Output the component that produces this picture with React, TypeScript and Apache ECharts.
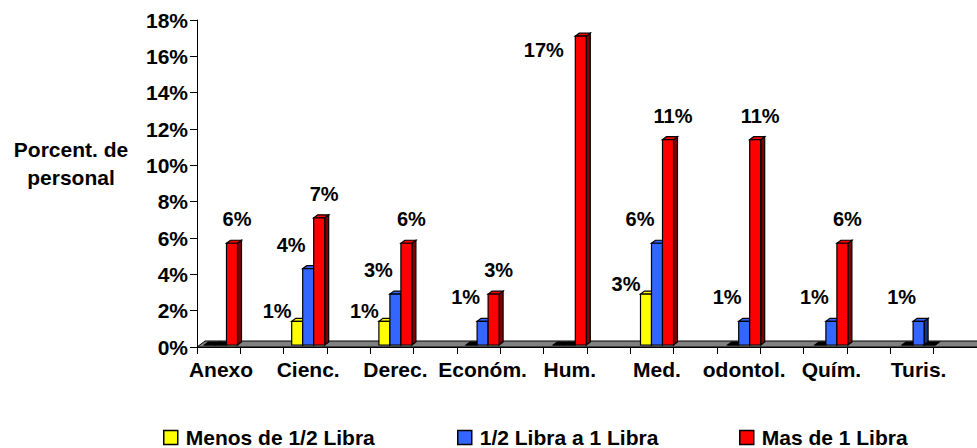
import React, { useEffect, useRef } from "react";
import * as echarts from "echarts";

const categories = ["Anexo", "Cienc.", "Derec.", "Económ.", "Hum.", "Med.", "odontol.", "Quím.", "Turis."];
const seriesNames = ["Menos de 1/2 Libra", "1/2 Libra a 1 Libra", "Mas de 1 Libra"];
const menosDeMedia = [0, 1.3, 1.3, 0, 0, 2.8, 0, 0, 0];
const mediaAUna = [0, 4.2, 2.8, 1.3, 0, 5.6, 1.3, 1.3, 1.3];
const masDeUna = [5.6, 7.0, 5.6, 2.8, 17.0, 11.3, 11.3, 5.6, 0];
const yMin = 0;
const yMax = 18;
const yInterval = 2;
const yTitle = "Porcent. de\npersonal";

const FONT = '"Liberation Sans", Arial, Helvetica, sans-serif';
const frontColors = ["#FFFF00", "#3366FF", "#FF0000"];
const sideColors = ["#8C8C00", "#1A3380", "#800000"];
const labelOffsets = [
  { dx: -20, dy: -10 },
  { dx: -17, dy: -24 },
  { dx: 5, dy: -24 },
];
const legendLefts = [163, 457, 739];

const BAR_W = 11;
const DEPTH_X = 4;
const DEPTH_Y = 3;
const LIFT = 2;

function makeSeries(idx: number, values: number[]) {
  return {
    type: "custom",
    name: seriesNames[idx],
    xAxisIndex: 0,
    yAxisIndex: 0,
    z: 3 + idx,
    itemStyle: { color: frontColors[idx] },
    encode: { x: 0, y: 1 },
    data: values.map((v, i) => [i, v]),
    renderItem: (params: any, api: any) => {
      const ci = api.value(0);
      const v = api.value(1);
      const base = api.coord([ci, 0]);
      const top = api.coord([ci, v]);
      const plotTop = api.coord([ci, yMax])[1];
      const x0 = base[0] - (BAR_W * 3) / 2 + idx * BAR_W;
      const x1 = x0 + BAR_W;
      const yb = base[1] - LIFT;
      const yt = top[1] - LIFT;
      const zero = v === 0;
      const stroke = { stroke: "#000", lineWidth: 1.2 };
      const children: any[] = [
        {
          type: "polygon",
          shape: { points: [[x1, yb], [x1, yt], [x1 + DEPTH_X, yt - DEPTH_Y], [x1 + DEPTH_X, yb - DEPTH_Y]] },
          style: { fill: zero ? "#000" : sideColors[idx], ...stroke },
        },
        {
          type: "polygon",
          shape: { points: [[x0, yt], [x1, yt], [x1 + DEPTH_X, yt - DEPTH_Y], [x0 + DEPTH_X, yt - DEPTH_Y]] },
          style: { fill: zero ? "#000" : frontColors[idx], ...stroke },
        },
        {
          type: "rect",
          shape: { x: x0, y: yt, width: BAR_W, height: Math.max(0, yb - yt) },
          style: { fill: zero ? "#000" : frontColors[idx], ...stroke },
        },
      ];
      if (!zero) {
        let { dx, dy } = labelOffsets[idx];
        if (yt + dy - 10 < plotTop) {
          dx = -37;
          dy = 14;
        }
        children.push({
          type: "text",
          x: x0 + BAR_W / 2 + dx,
          y: yt + dy,
          style: {
            text: Math.round(v) + "%",
            fill: "#000",
            font: `bold 20px ${FONT}`,
            align: "center",
            verticalAlign: "middle",
            textAlign: "center",
            textVerticalAlign: "middle",
          },
        });
      }
      return { type: "group", children };
    },
  };
}

export default function App() {
  const ref = useRef<HTMLDivElement>(null);
  useEffect(() => {
    document.body.style.margin = "0";
    const chart = echarts.init(ref.current as HTMLDivElement, undefined, { renderer: "svg" });
    const gridTop = 20;
    const gridHeight = 327;
    const band = 87.2;
    const option: any = {
      animation: false,
      backgroundColor: "#fff",
      textStyle: { fontFamily: FONT },
      grid: [
        { left: 177.4, top: gridTop, width: band * 9, height: gridHeight },
        { left: 197, top: gridTop, width: band * 9, height: gridHeight },
      ],
      xAxis: [
        {
          type: "category",
          gridIndex: 0,
          data: categories,
          axisLine: { show: false },
          axisTick: { show: false },
          axisLabel: {
            interval: 0,
            margin: 12,
            color: "#000",
            fontSize: 21,
            fontWeight: "bold",
            fontFamily: FONT,
          },
        },
        {
          type: "category",
          gridIndex: 1,
          data: [...categories, ...categories].map((c, i) => String(i)),
          axisLine: { show: true, lineStyle: { color: "#000", width: 1 } },
          axisTick: { show: true, length: 7, lineStyle: { color: "#000" } },
          axisLabel: { show: false },
        },
      ],
      yAxis: [
        {
          type: "value",
          gridIndex: 0,
          min: yMin,
          max: yMax,
          interval: yInterval,
          show: false,
        },
        {
          type: "value",
          gridIndex: 1,
          min: yMin,
          max: yMax,
          interval: yInterval,
          splitLine: { show: false },
          axisLine: { show: true, lineStyle: { color: "#000", width: 1 } },
          axisTick: { show: true, length: 7, lineStyle: { color: "#000" } },
          axisLabel: {
            formatter: "{value}%",
            margin: 9,
            color: "#000",
            fontSize: 21,
            fontWeight: "bold",
            fontFamily: FONT,
          },
        },
      ],
      legend: seriesNames.map((n, i) => ({
        data: [n],
        left: legendLefts[i],
        top: 427,
        padding: 0,
        icon: "rect",
        itemWidth: 14,
        itemHeight: 14,
        selectedMode: false,
        itemStyle: { borderColor: "#000", borderWidth: 1.5 },
        textStyle: { fontSize: 21, fontWeight: "bold", fontFamily: FONT, color: "#000", padding: [0, 0, 0, 3] },
      })),
      graphic: [
        {
          type: "polygon",
          z: 0,
          shape: { points: [[197, 347], [205, 341], [990, 341], [985, 347]] },
          style: { fill: "#808080", stroke: "#000", lineWidth: 1 },
        },
        {
          type: "text",
          z: 5,
          x: 71,
          y: 163,
          style: {
            text: yTitle,
            font: `bold 21px ${FONT}`,
            fill: "#000",
            lineHeight: 28,
            align: "center",
            verticalAlign: "middle",
            textAlign: "center",
            textVerticalAlign: "middle",
          },
        },
      ],
      series: [makeSeries(0, menosDeMedia), makeSeries(1, mediaAUna), makeSeries(2, masDeUna)],
    };
    chart.setOption(option);
    return () => chart.dispose();
  }, []);
  return <div ref={ref} style={{ width: 977, height: 448 }} />;
}
